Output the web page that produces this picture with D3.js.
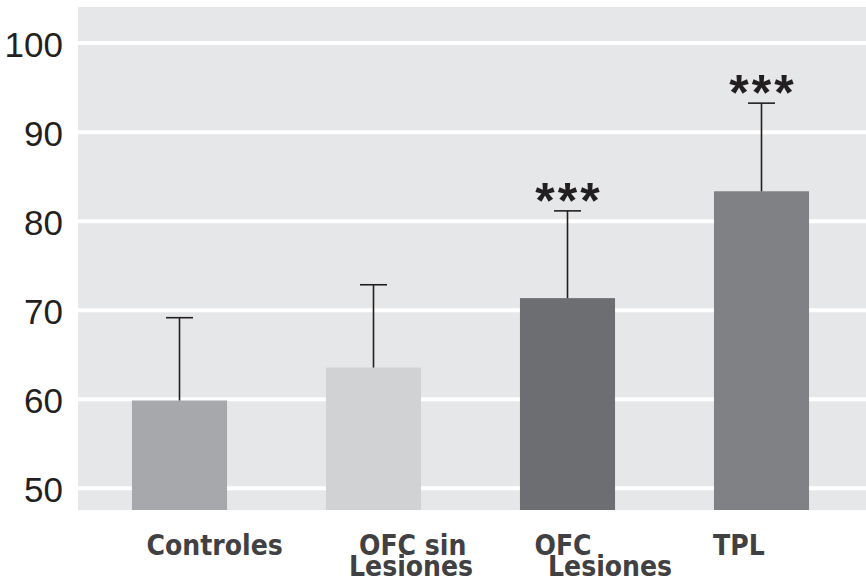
<!DOCTYPE html>
<html>
<head>
<meta charset="utf-8">
<script src="https://cdn.jsdelivr.net/npm/d3@7"></script>
<style>
  body { margin: 0; background: #fff; }
  svg { display: block; }
</style>
</head>
<body>
<svg id="chart" width="866" height="581"></svg>
<script>
const grupos = ["Controles", "OFC sin Lesiones", "OFC Lesiones", "TPL"]
const etiquetas = [["Controles"], ["OFC sin", "Lesiones"], ["OFC", "Lesiones"], ["TPL"]]
const medias = [59.8, 63.5, 71.3, 83.3]
const errores = [9.3, 9.3, 9.8, 9.9]
const significancia = ["", "", "***", "***"]
const ticksY = [50, 60, 70, 80, 90, 100]
const colores = ["#a7a8ab", "#d1d2d4", "#6d6e71", "#808184"]

const width = 866, height = 581
const plot = {left: 78, right: 866, top: 7, bottom: 510}

// desplazamiento horizontal de cada linea de etiqueta (respecto al centro de la barra)
const labelDx = [[-33], [-14.5, -24.5], [-33, -19.5], [-48.5]]

const svg = d3.select('#chart')

const x = d3.scaleBand()
    .domain(grupos)
    .range([82.5, 858.5])
    .paddingInner(0.51)
    .paddingOuter(0.255)

const y = d3.scaleLinear()
    .domain([47.5, 104])
    .range([plot.bottom, plot.top])

svg.append('rect')
    .attr('x', plot.left)
    .attr('y', plot.top)
    .attr('width', plot.right - plot.left)
    .attr('height', plot.bottom - plot.top)
    .attr('fill', '#e6e7e8')

// lineas de cuadricula
svg.append('g')
    .attr('transform', `translate(${plot.left},0)`)
    .call(d3.axisLeft(y).tickValues(ticksY).tickSize(-(plot.right - plot.left)).tickFormat(''))
    .call(g => g.select('.domain').remove())
    .call(g => g.selectAll('line').attr('stroke', '#fff').attr('stroke-width', 4))

// eje y
svg.append('g')
    .attr('transform', 'translate(63,0)')
    .call(d3.axisLeft(y).tickValues(ticksY).tickSize(0).tickPadding(0))
    .call(g => g.select('.domain').remove())
    .call(g => g.selectAll('text')
        .attr('font-family', 'Liberation Sans, Arial, sans-serif')
        .attr('font-size', 35)
        .attr('fill', '#231f20')
        .attr('dy', '0.4em'))

const datos = grupos.map((g, i) => ({g, m: medias[i], e: errores[i], s: significancia[i], c: colores[i], i}))

// barras
svg.append('g').selectAll('rect')
    .data(datos)
    .join('rect')
    .attr('x', d => x(d.g))
    .attr('width', x.bandwidth())
    .attr('y', d => y(d.m))
    .attr('height', d => plot.bottom - y(d.m))
    .attr('fill', d => d.c)

// barras de error
const err = svg.append('g').attr('stroke', '#231f20').attr('stroke-width', 1.6)
err.selectAll('.v')
    .data(datos)
    .join('line')
    .attr('x1', d => x(d.g) + x.bandwidth() / 2)
    .attr('x2', d => x(d.g) + x.bandwidth() / 2)
    .attr('y1', d => y(d.m))
    .attr('y2', d => y(d.m + d.e))
err.selectAll('.h')
    .data(datos)
    .join('line')
    .attr('x1', d => x(d.g) + x.bandwidth() / 2 - 13.5)
    .attr('x2', d => x(d.g) + x.bandwidth() / 2 + 13.5)
    .attr('y1', d => y(d.m + d.e))
    .attr('y2', d => y(d.m + d.e))

// asteriscos
svg.append('g').selectAll('text')
    .data(datos.filter(d => d.s))
    .join('text')
    .attr('x', d => x(d.g) + x.bandwidth() / 2 + 1.5)
    .attr('y', d => y(d.m + d.e) + 7)
    .attr('text-anchor', 'middle')
    .attr('font-family', 'Liberation Sans, Arial, sans-serif')
    .attr('font-weight', 'bold')
    .attr('font-size', 50)
    .attr('letter-spacing', 3)
    .attr('fill', '#231f20')
    .text(d => d.s)

// etiquetas del eje x
const lineasY = [555, 576]
const lab = svg.append('g')
    .attr('font-family', 'DejaVu Sans Condensed, DejaVu Sans, sans-serif')
    .attr('font-weight', 'bold')
    .attr('font-size', 28)
    .attr('fill', '#414042')
datos.forEach(d => {
    etiquetas[d.i].forEach((t, j) => {
        lab.append('text')
            .attr('x', x(d.g) + x.bandwidth() / 2 + labelDx[d.i][j])
            .attr('y', lineasY[j])
            .text(t)
    })
})
</script>
</body>
</html>
